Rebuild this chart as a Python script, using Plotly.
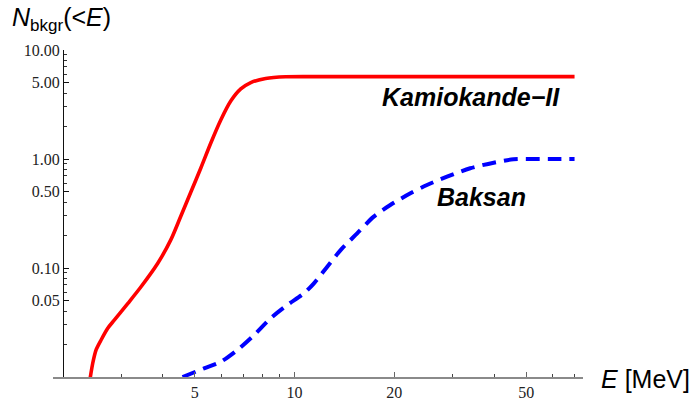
import plotly.graph_objects as go
import math

# Kamiokande-II background (red, solid)
kam_E = [2.405, 2.42, 2.459, 2.517, 2.606, 2.729, 2.86, 3.14, 3.44, 3.86, 4.23, 4.538,
         4.864, 5.213, 5.587, 5.988, 6.418, 6.88, 7.375, 8.18, 9.4, 12, 20, 40, 70]
kam_N = [0.0090, 0.0101, 0.01337, 0.0177, 0.02185, 0.0280, 0.0334, 0.0474, 0.0673, 0.110,
         0.181, 0.300, 0.498, 0.827, 1.402, 2.279, 3.40, 4.39, 5.03, 5.48, 5.68, 5.70,
         5.70, 5.70, 5.70]

# Baksan background (blue, dashed)
bak_E = [4.59, 5.33, 5.99, 6.72, 7.55, 8.47, 9.51, 10.67, 11.44, 12.55, 13.77, 15.45,
         17.34, 19.45, 22.37, 25.1, 28.85, 33.9, 39.9, 45.8, 53.8, 62, 70]
bak_N = [0.0100, 0.0120, 0.0138, 0.0177, 0.0243, 0.0346, 0.0458, 0.0586, 0.0724, 0.1028,
         0.146, 0.208, 0.296, 0.378, 0.484, 0.577, 0.688, 0.822, 0.925, 0.994, 1.0, 1.0, 1.0]

x_tickvals = [5, 10, 20, 50]
x_ticktext = ["5", "10", "20", "50"]
x_minor = [3, 4, 6, 7, 8, 9, 30, 40, 60, 70]
y_tickvals = [0.05, 0.1, 0.5, 1, 5, 10]
y_ticktext = ["0.05", "0.10", "0.50", "1.00", "5.00", "10.00"]
y_minor = [0.02, 0.03, 0.04, 0.06, 0.07, 0.08, 0.09, 0.2, 0.3, 0.4, 0.6, 0.7, 0.8, 0.9,
           2, 3, 4, 6, 7, 8, 9]

fig = go.Figure()
fig.add_trace(go.Scatter(x=kam_E, y=kam_N, mode="lines",
                         line=dict(color="#ff0000", width=3.6, shape="spline", smoothing=0.8),
                         showlegend=False, hoverinfo="skip"))
fig.add_trace(go.Scatter(x=bak_E, y=bak_N, mode="lines",
                         line=dict(color="#0000ff", width=4, dash="14px,8px",
                                   shape="spline", smoothing=0.8),
                         showlegend=False, hoverinfo="skip"))

L, R, T, B = 53, 111, 50, 25
W, H = 694, 402
pw = W - L - R
ph = H - T - B

xmin = math.log10(2) - 10 / 331.3
xmax = xmin + pw / 331.3

serif = "Times New Roman, Liberation Serif, DejaVu Serif, serif"
sans = "Liberation Sans"

fig.update_layout(
    width=W, height=H,
    margin=dict(l=L, r=R, t=T, b=B, pad=0, autoexpand=False),
    paper_bgcolor="white", plot_bgcolor="white",
    xaxis=dict(type="log", range=[xmin, xmax], showgrid=False, zeroline=False,
               automargin=False,
               showline=True, linecolor="#8a8a8a", linewidth=2,
               ticks="inside", ticklen=5, tickwidth=1, tickcolor="#666666",
               tickmode="array", tickvals=x_tickvals, ticktext=x_ticktext,
               tickfont=dict(family=serif, size=16, color="#222222"),
               minor=dict(tickmode="array", tickvals=x_minor, ticks="inside",
                          ticklen=3, tickcolor="#444444", tickwidth=1)),
    yaxis=dict(type="log", range=[-2, 1], showgrid=False, zeroline=False,
               automargin=False,
               anchor="free", position=10 / pw,
               showline=True, linecolor="#111111", linewidth=1,
               ticks="inside", ticklen=5, tickwidth=1, tickcolor="#111111",
               tickmode="array", tickvals=y_tickvals, ticktext=y_ticktext,
               tickfont=dict(family=serif, size=16, color="#222222"),
               minor=dict(tickmode="array", tickvals=y_minor, ticks="inside",
                          ticklen=3, tickcolor="#333333", tickwidth=1)),
)

def px2x(px):
    return (px - L) / pw

def py2y(py):
    return (H - B - py) / ph

fig.add_annotation(x=px2x(471), y=py2y(96.7), xref="paper", yref="paper",
                   text="<b><i>Kamiokande\u2212II</i></b>", showarrow=False,
                   xanchor="center", yanchor="middle",
                   font=dict(family=sans, size=25, color="black"))
fig.add_annotation(x=px2x(481.5), y=py2y(197), xref="paper", yref="paper",
                   text="<b><i>Baksan</i></b>", showarrow=False,
                   xanchor="center", yanchor="middle",
                   font=dict(family=sans, size=25, color="black"))
fig.add_annotation(x=px2x(599), y=py2y(379), xref="paper", yref="paper",
                   text="<i>E</i> [MeV]", showarrow=False,
                   xanchor="left", yanchor="middle",
                   font=dict(family=sans, size=25, color="black"))
fig.add_annotation(x=px2x(10), y=py2y(19), xref="paper", yref="paper",
                   text="<i>N</i><sub><span style='font-size:17px'>bkgr</span></sub>(&lt;<i>E</i>)",
                   showarrow=False, xanchor="left", yanchor="middle",
                   font=dict(family=sans, size=25, color="black"))

fig.write_html("out.html")
